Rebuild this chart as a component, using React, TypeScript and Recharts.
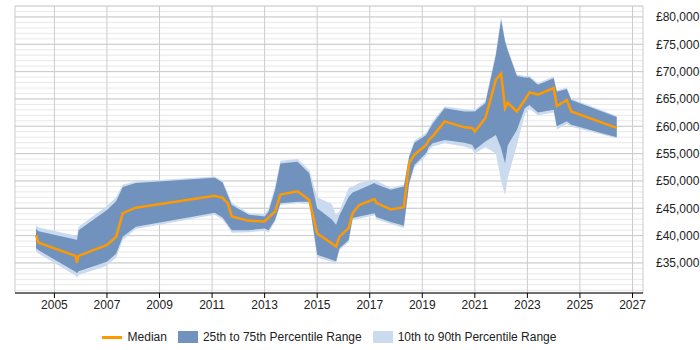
import {
  ComposedChart,
  Area,
  Line,
  XAxis,
  YAxis,
  CartesianGrid,
  Legend
} from "recharts";

const years = [
  2004.3, 2004.4, 2005.8, 2005.86, 2005.92, 2007.0, 2007.35, 2007.6, 2008.1, 2011.1,
  2011.4, 2011.6, 2011.75, 2012.4, 2013.0, 2013.15, 2013.4, 2013.6, 2014.25, 2014.7,
  2015.0, 2015.55, 2015.72, 2015.85, 2016.2, 2016.35, 2016.6, 2017.18, 2017.25, 2017.8,
  2018.3, 2018.5, 2018.7, 2019.15, 2019.25, 2019.4, 2019.85, 2020.6, 2020.9, 2021.0,
  2021.4, 2021.8, 2022.0, 2022.15, 2022.25, 2022.6, 2022.9, 2023.08, 2023.4, 2024.0,
  2024.12, 2024.5, 2024.67, 2026.4,
];

const p10 = [
  37100, 36700, 32700, 32300, 32800, 34500, 36000, 39200, 41200, 43800,
  42900, 41600, 40500, 40600, 40900, 40600, 42600, 45600, 45900, 45800,
  36000, 35200, 34900, 37300, 38800, 42800, 43100, 43700, 43000, 42100,
  41400, 49200, 52500, 54600, 55600, 56300, 56900, 56300, 55800, 55000,
  56200, 55000, 50000, 47400, 50500, 56500, 62200, 63200, 62000, 62500,
  59400, 60400, 59900, 57800,
];

const p25 = [
  37700, 37300, 33400, 33100, 33500, 35200, 36700, 39800, 41600, 44200,
  43300, 42000, 41000, 41000, 41300, 41000, 42900, 45900, 46200, 46200,
  36500, 35600, 35300, 37700, 39200, 43200, 43500, 44100, 43400, 42500,
  41800, 49600, 52900, 55100, 56200, 56900, 57500, 57000, 56600, 55700,
  57200, 58400, 56000, 53200, 56500, 59300, 63300, 63900, 62500, 63000,
  60000, 60900, 60300, 58000,
];

const median = [
  40100, 38700, 36300, 35100, 36300, 38300, 39800, 44100, 45100, 47300,
  46900, 45900, 43500, 42700, 42600, 43300, 44400, 47500, 48100, 46500,
  40400, 38600, 38000, 39800, 41400, 44100, 45600, 46700, 46000, 44800,
  45200, 53200, 54800, 56600, 57500, 58200, 60900, 59800, 59700, 59000,
  61500, 68500, 69600, 63300, 64300, 62700, 64800, 66200, 65800, 67000,
  63700, 64800, 62700, 59700,
];

const p75 = [
  41200, 40800, 39300, 39200, 41000, 44700, 46300, 48900, 49600, 50600,
  49700, 47400, 45600, 43800, 43500, 44400, 48400, 53200, 53500, 51400,
  45000, 43000, 42000, 43700, 47100, 47900, 48400, 49600, 49400, 48400,
  49000, 54400, 57000, 58400, 59300, 60500, 63300, 62700, 62700, 62700,
  64200, 73000, 79500, 75500, 73900, 69200, 68900, 68900, 67600, 68800,
  66300, 66800, 64800, 61700,
];

const p90 = [
  41900, 41500, 40000, 39900, 41600, 45400, 47000, 49300, 49900, 50800,
  50000, 47800, 46000, 44100, 43900, 44900, 49000, 53700, 54000, 52000,
  47000, 45800, 43800, 44500, 48700, 49000, 49600, 50300, 50100, 48700,
  49300, 54700, 57400, 58800, 59700, 61000, 63600, 63100, 63000, 63000,
  64600, 73400, 80000, 75800, 74200, 69500, 69200, 69200, 67900, 69100,
  66600, 67100, 65100, 61900,
];

const yearTicks = [2005, 2007, 2009, 2011, 2013, 2015, 2017, 2019, 2021, 2023, 2025, 2027];
const salaryTicks = [35000, 40000, 45000, 50000, 55000, 60000, 65000, 70000, 75000, 80000];
const minorTicks = Array.from({ length: 53 }, (_, i) => 30000 + i * 1000);

const data = years.map((year, i) => ({
  year,
  median: median[i],
  outer: [p10[i], p90[i]],
  inner: [p25[i], p75[i]],
}));

const DARK = "#7092bc";
const LIGHT = "#cadbef";
const ORANGE = "#ff9900";
const FONT = "Arial, 'Liberation Sans', sans-serif";
const Y_DOMAIN = [29500, 82000];

const fmt = (v: number) => "£" + v.toLocaleString("en-GB");

function LegendBox() {
  const item = { display: "flex", alignItems: "center", marginRight: 11 };
  return (
    <div
      style={{
        display: "flex",
        justifyContent: "center",
        paddingTop: 7,
        fontFamily: FONT,
        fontSize: 12,
        color: "#222",
      }}
    >
      <div style={item}>
        <span style={{ width: 20, height: 3, background: ORANGE, marginRight: 6 }} />
        Median
      </div>
      <div style={item}>
        <span style={{ width: 20, height: 12, background: DARK, marginRight: 5 }} />
        25th to 75th Percentile Range
      </div>
      <div style={{ ...item, marginRight: 0 }}>
        <span style={{ width: 20, height: 12, background: LIGHT, marginRight: 5 }} />
        10th to 90th Percentile Range
      </div>
    </div>
  );
}

export default function App() {
  return (
    <div style={{ position: "absolute", left: 0, top: 0, width: 700, height: 350 }}>
      <ComposedChart
        width={700}
        height={350}
        data={data}
        margin={{ top: 6, right: 5, left: 15, bottom: 5 }}
      >
        {/* light 1000-step lines from a hidden axis, then the major grid */}
        <CartesianGrid stroke="#e8e8e8" vertical={false} yAxisId="minor" />
        <CartesianGrid stroke="#cccccc" />
        <XAxis
          dataKey="year"
          type="number"
          domain={[2003.5, 2027.4]}
          ticks={yearTicks}
          allowDataOverflow
          stroke="#000"
          tickSize={5}
          height={30}
          tick={{ fill: "#222", fontSize: 12, fontFamily: FONT }}
        />
        <YAxis
          orientation="right"
          domain={Y_DOMAIN}
          ticks={salaryTicks}
          allowDataOverflow
          width={52}
          axisLine={false}
          tickLine={false}
          tickFormatter={fmt}
          tick={{ fill: "#222", fontSize: 12, fontFamily: FONT, textAnchor: "start" }}
          tickMargin={7}
        />
        <YAxis
          yAxisId="minor"
          orientation="right"
          domain={Y_DOMAIN}
          ticks={minorTicks}
          interval={0}
          allowDataOverflow
          hide
        />
        <Area
          dataKey="outer"
          stroke="none"
          fill={LIGHT}
          fillOpacity={1}
          isAnimationActive={false}
        />
        <Area
          dataKey="inner"
          stroke="none"
          fill={DARK}
          fillOpacity={1}
          isAnimationActive={false}
        />
        <Line
          dataKey="median"
          stroke={ORANGE}
          strokeWidth={2.5}
          dot={false}
          isAnimationActive={false}
        />
        <Legend
          verticalAlign="bottom"
          height={22}
          content={() => <LegendBox />}
          wrapperStyle={{ left: 0, width: 658 }}
        />
      </ComposedChart>
    </div>
  );
}
